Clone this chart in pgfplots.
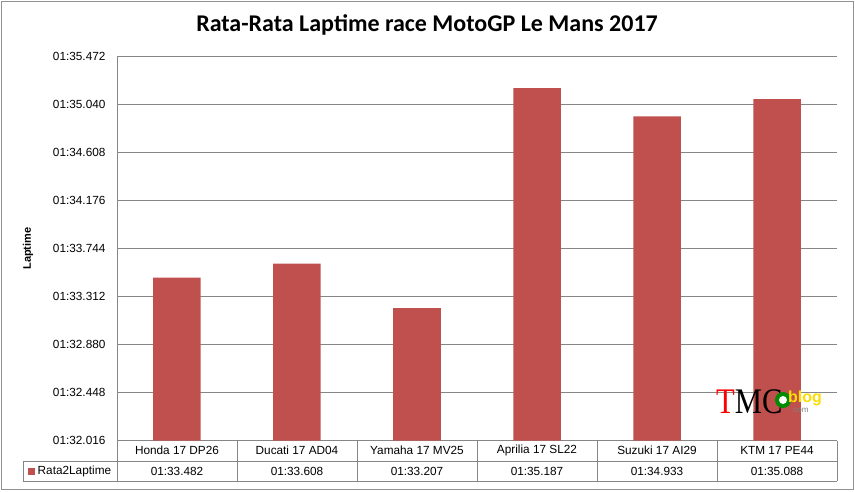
\documentclass[border=0pt]{standalone}
\usepackage{pgfplots}
\pgfplotsset{compat=1.18}
\usepackage{fontspec}
\setmainfont{Liberation Sans}
\newfontfamily\titlefont{Carlito}
\newfontfamily\logofont{Liberation Serif}
\definecolor{barred}{HTML}{C0504D}
\definecolor{gridgray}{HTML}{868686}
\begin{document}
\begin{tikzpicture}[x=1pt,y=1pt]
\useasboundingbox (-117,-50.5) rectangle (738,440.5);
\draw[gridgray!90, line width=0.9pt] (-116,-48.5) rectangle (736,439.5);
\begin{axis}[
  at={(0,0)}, anchor=south west,
  scale only axis, width=720pt, height=384pt,
  xmin=-0.5, xmax=5.5,
  ymin=32.016, ymax=35.472,
  ytick={32.016,32.448,32.880,33.312,33.744,34.176,34.608,35.040,35.472},
  yticklabels={01:32.016,01:32.448,01:32.880,01:33.312,01:33.744,01:34.176,01:34.608,01:35.040,01:35.472},
  xtick={0,1,2,3,4,5},
  xticklabels={Honda 17 DP26,Ducati 17 AD04,Yamaha 17 MV25,Aprilia 17 SL22,Suzuki 17 AI29,KTM 17 PE44},
  major tick length=0pt,
  axis lines*=left,
  axis line style={-, draw=gridgray, line width=0.9pt},
  ymajorgrids, grid style={draw=gridgray, line width=0.9pt},
  ticklabel style={font=\fontsize{11.8}{13}\selectfont, text=black},
  yticklabel style={anchor=east, xshift=-8pt},
  xticklabel style={anchor=center, yshift=-10.25pt},
  xlabel={}, ylabel={Laptime},
  every axis y label/.style={at={(axis description cs:-0.1236,0.5)}, rotate=90, anchor=center, font=\fontsize{11}{13}\selectfont\bfseries},
  title={Rata-Rata Laptime race MotoGP Le Mans 2017},
  every axis title/.style={at={(axis description cs:0.4306,1)}, anchor=center, yshift=31.5pt, font=\titlefont\fontsize{24}{27}\selectfont\bfseries},
  ybar, bar width=47.5pt, bar shift=0pt,
  clip=true,
]
\addplot[fill=barred, draw=none] coordinates {
  (0,33.482) (1,33.608) (2,33.207) (3,35.187) (4,34.933) (5,35.088)
};
\end{axis}
% data table below the plot
\begin{scope}[gridgray, line width=0.9pt]
\draw (-94,-20.5) -- (720,-20.5);
\draw (-94,-40.5) -- (720,-40.5);
\draw (-94,-20.5) -- (-94,-40.5);
\foreach \xx in {0,120,240,360,480,600,720} \draw (\xx,0) -- (\xx,-40.5);
\end{scope}
\fill[barred] (-89,-34) rectangle (-82,-27);
\node[anchor=west, font=\fontsize{11.8}{13}\selectfont, inner sep=0pt] at (-79.5,-30.5) {Rata2Laptime};
\foreach \xx/\vv in {60/01:33.482,180/01:33.608,300/01:33.207,420/01:35.187,540/01:34.933,660/01:35.088}
  \node[font=\fontsize{11.8}{13}\selectfont] at (\xx,-30.5) {\vv};
% watermark
\node[anchor=base west, inner sep=0pt, font=\logofont\fontsize{36}{36}\selectfont, xscale=0.85] at (599,27.5) {\textcolor{red}{T}\textcolor{black}{MC}};
\fill[green!55!black] (666,40.5) circle (8);
\fill[white] (666,40.5) circle (4);
\node[anchor=base west, inner sep=0pt, font=\fontsize{16}{16}\selectfont\bfseries, text=yellow!80!orange] at (671,38) {blog};
\node[anchor=base west, inner sep=0pt, font=\fontsize{8}{8}\selectfont, text=gray] at (674,28.5) {.com};
\end{tikzpicture}
\end{document}
